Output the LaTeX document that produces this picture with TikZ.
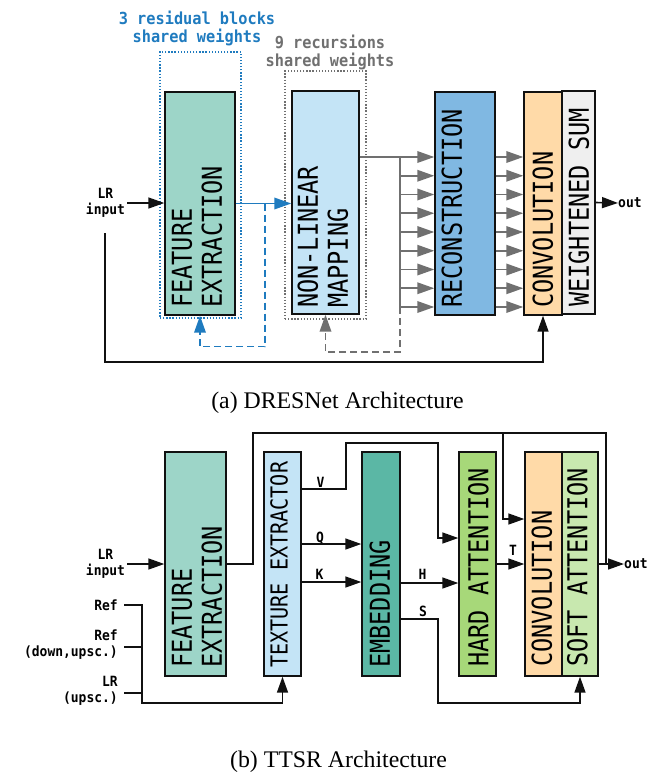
\documentclass[tikz,border=0pt]{standalone}
\usepackage{fontspec}
\setmainfont{Liberation Serif}
\newfontfamily\boxfont[FakeStretch=0.86]{DejaVu Sans Mono}
\newfontfamily\lblfont[FakeStretch=0.92]{DejaVu Sans Mono}
\usetikzlibrary{arrows.meta,calc}
\definecolor{cFE}{HTML}{9DD5C8}
\definecolor{cNL}{HTML}{C4E4F6}
\definecolor{cRE}{HTML}{80B8E2}
\definecolor{cCV}{HTML}{FFDAA8}
\definecolor{cWS}{HTML}{EFEFEF}
\definecolor{cEM}{HTML}{5BB7A5}
\definecolor{cHA}{HTML}{A7D879}
\definecolor{cSA}{HTML}{C8E8AF}
\definecolor{cBlue}{HTML}{1F7BBF}
\definecolor{cGray}{HTML}{707070}
\definecolor{cLine}{HTML}{111111}
\begin{document}
\begin{tikzpicture}[x=1pt,y=-1pt,
  blk/.style={draw=cLine, line width=1.4pt, inner sep=0pt, minimum height=223pt},
  btxt/.style={rotate=90, anchor=west, inner sep=0pt, align=left, font=\boxfont\fontsize{27.4}{30}\selectfont},
  lbl/.style={inner sep=0pt, align=center, font=\lblfont\bfseries\fontsize{14.1}{16}\selectfont},
  ttl/.style={inner sep=0pt, align=center, font=\lblfont\bfseries\fontsize{16.6}{18}\selectfont},
  captxt/.style={inner sep=0pt, anchor=base, font=\fontsize{23.8}{26}\selectfont},
  line/.style={draw=cLine, line width=1.6pt},
  arr/.style={line, -{Triangle[length=16pt,width=11pt]}},
  gline/.style={draw=cGray, line width=1.8pt},
  garr/.style={gline, -{Triangle[length=17pt,width=11.5pt]}},
  bline/.style={draw=cBlue, line width=1.8pt},
  barr/.style={bline, -{Triangle[length=17pt,width=11.5pt]}},
  dotbox/.style={line width=1.3pt, dash pattern=on 1.3pt off 1.8pt, inner sep=0pt},
  dsh/.style={dash pattern=on 7pt off 4pt}
]
\useasboundingbox (0,0) rectangle (658,777);

% ---------------- (a) DRESNet ----------------
\node[dotbox, draw=cBlue, minimum width=81pt, minimum height=266pt] (fedot) at (200.5,185) {};
\node[dotbox, draw=cGray, minimum width=81pt, minimum height=248pt] (nldot) at (325.5,195) {};

\node[ttl, text=cBlue] (rbl) at (197,28) {3 residual blocks\\shared weights};
\node[ttl, text=cGray] (rcs) at (330,52) {9 recursions\\shared weights};

\node[blk, fill=cFE, minimum width=70pt] (fea) at (200,203.5) {};
\node[blk, fill=cNL, minimum width=67pt] (nlm) at (325.5,202.5) {};
\node[blk, fill=cRE, minimum width=60pt] (rec) at (465,203.5) {};
\node[blk, fill=cCV, minimum width=38pt] (cva) at (543,203.5) {};
\node[blk, fill=cWS, minimum width=33pt] (ws) at (578.5,202.5) {};

\node[btxt] (feat) at (197,308) {FEATURE\\EXTRACTION};
\node[btxt] (nlmt) at (323,308) {NON-LINEAR\\MAPPING};
\node[btxt] (rect) at (452,308) {RECONSTRUCTION};
\node[btxt] (cvat) at (543,308) {CONVOLUTION};
\node[btxt] (wst) at (579,307) {WEIGHTENED SUM};

\node[lbl] (lra) at (105.5,203) {LR\\input};
\node[lbl, anchor=west] (outa) at (618,203) {out};

\draw[arr] ([xshift=2pt]lra.east) -- (lra.east -| fea.west);
\coordinate (lrbot) at (105,233);
\draw[arr] (lrbot) -- ++(0,129) -| (cva.south);

% blue feature path
\coordinate (bsplit) at (265,203.5);
\draw[barr, bline, dsh] (bsplit) -- ++(0,143) -| (fea.south);
\draw[barr] (fea.east) -- (fea.east -| nlm.west);

% gray recursion outputs
\coordinate (split) at (400,157);
\coordinate (splitbot) at (400,307);
\draw[gline] (nlm.east |- split) -- (split) -- (splitbot);
\draw[garr, dsh] (splitbot) -- ++(0,45) -| (nlm.south);
\foreach \i in {0,...,8}{
  \path ([yshift=-\i*18.75pt]split) coordinate (s\i);
  \draw[garr] (s\i) -- (s\i -| rec.west);
  \draw[garr] (s\i -| rec.east) -- (s\i -| cva.west);
}
\draw[arr] (ws.east) -- (outa.west);

\node[captxt] (capa) at (337.5,408) {(a) DRESNet Architecture};

% ---------------- (b) TTSR ----------------
\node[blk, fill=cFE, minimum width=61pt, minimum height=224pt] (feb) at (195.5,564) {};
\node[blk, fill=cNL, minimum width=37pt, minimum height=224pt] (te) at (282.5,564) {};
\node[blk, fill=cEM, minimum width=38pt, minimum height=224pt] (emb) at (381,564) {};
\node[blk, fill=cHA, minimum width=37pt, minimum height=224pt] (ha) at (477.5,564) {};
\node[blk, fill=cCV, minimum width=37pt, minimum height=224pt] (cvb) at (543.5,564) {};
\node[blk, fill=cSA, minimum width=36pt, minimum height=224pt] (sa) at (580,564) {};

\node[btxt] (febt) at (197,668) {FEATURE\\EXTRACTION};
\node[btxt, font=\boxfont\fontsize{23.4}{26}\selectfont] (tet) at (279,668) {TEXTURE EXTRACTOR};
\node[btxt] (embt) at (380,668) {EMBEDDING};
\node[btxt] (hat) at (478.5,667) {HARD ATTENTION};
\node[btxt] (cvbt) at (542,667) {CONVOLUTION};
\node[btxt] (sat) at (577.5,667) {SOFT ATTENTION};

\node[lbl] (lrb) at (105.5,564) {LR\\input};
\node[lbl, align=right, anchor=east] (ref1) at (118,605) {Ref};
\node[lbl, align=right, anchor=east] (ref2) at (118,645) {Ref\\(down,upsc.)};
\node[lbl, align=right, anchor=east] (ref3) at (118,691) {LR\\(upsc.)};
\node[lbl, anchor=west] (outb) at (624,564) {out};

\node[lbl] (lv) at (320.5,482) {V};
\node[lbl] (lq) at (320,538) {Q};
\node[lbl] (lk) at (319.5,574.5) {K};
\node[lbl] (lh) at (422.5,574.5) {H};
\node[lbl] (ls) at (423,611) {S};
\node[lbl] (lt) at (513,550.5) {T};

\draw[arr] ([xshift=2pt]lrb.east) -- (lrb.east -| feb.west);

\coordinate (ta) at (253,433);
\coordinate (tb) at (606,433);
\coordinate (tc) at (503,433);
\draw[line] (feb.east) -| (ta) -- (tb) -- (tb |- sa.east);
\draw[arr] (tc) |- ([yshift=45pt]cvb.west);
\draw[arr] (sa.east) -- (outb.west);

\coordinate (va) at (346,443);
\coordinate (vb) at (438,443);
\draw[arr] ([yshift=75pt]te.east) -| (va) -- (vb) |- ([yshift=26pt]ha.west);
\draw[arr] ([yshift=20pt]te.east) -- ([yshift=20pt]emb.west);
\draw[arr] ([yshift=-18pt]te.east) -- ([yshift=-18pt]emb.west);
\draw[arr] ([yshift=-19pt]emb.east) -- ([yshift=-19pt]ha.west);
\coordinate (sj) at (438,703);
\draw[arr] ([yshift=-55pt]emb.east) -| (sj) -| (sa.south);
\draw[arr] (ha.east) -- (cvb.west);

\coordinate (rj) at (142,703);
\draw[arr] ([xshift=6pt]ref1.east) -| (rj) -| (te.south);
\draw[line] ([xshift=6pt,yshift=-2pt]ref2.east) -- ++(18,0);
\draw[line] ([xshift=6pt,yshift=-2pt]ref3.east) -- ++(18,0);

\node[captxt] (capb) at (338.5,767) {(b) TTSR Architecture};
\end{tikzpicture}
\end{document}
